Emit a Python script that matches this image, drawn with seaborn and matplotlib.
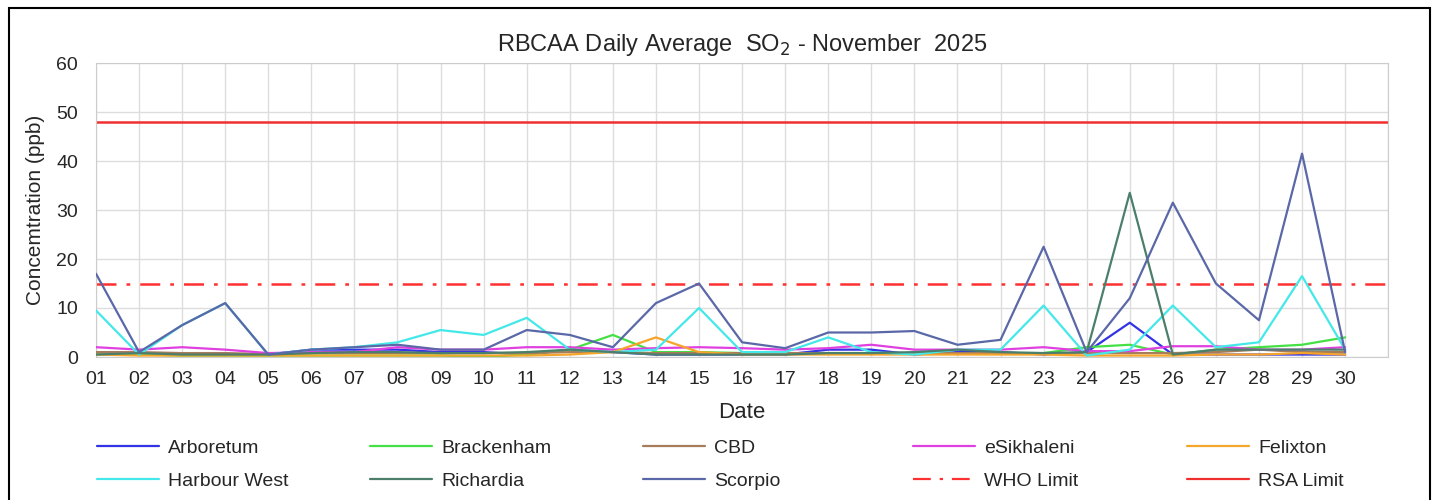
import seaborn as sns
import pandas as pd
from matplotlib import pyplot as plt
from matplotlib.lines import Line2D
from matplotlib.patches import Rectangle

dates = ['%02d' % d for d in range(1, 31)]

arboretum = [1, 0.5, 0.5, 0.5, 0.5, 1.5, 1.5, 1.5, 1, 1, 0.5, 1.5, 1, 0.5, 0.5,
             0.5, 0.5, 1.5, 1.5, 0.5, 1, 1, 0.5, 1, 7, 0.5, 0.5, 0.5, 0.5, 0.5]
brackenham = [0.5, 0.5, 0.3, 0.3, 0.3, 0.3, 0.3, 0.3, 0.3, 0, 0.5, 1.5, 4.5, 1, 1,
              0.8, 0.8, 0.8, 0.8, 0.8, 0.8, 0.8, 0.8, 2, 2.5, 0.5, 1.5, 2, 2.5, 4]
cbd = [1, 1, 0.8, 0.8, 0.6, 0.8, 0.8, 0.8, 0.8, 0.8, 0.8, 1, 1, 0.8, 0.8,
       0.8, 0.8, 0.8, 0.8, 0.8, 0.8, 0.8, 0.8, 0.8, 0.8, 0.8, 1, 1.5, 1, 1]
esikhaleni = [2, 1.5, 2, 1.5, 0.8, 1, 1, 2, 1.5, 1.5, 2, 2, 1.5, 1.8, 2,
              1.8, 1.5, 1.8, 2.5, 1.5, 1.5, 1.5, 2, 1.2, 1.2, 2.2, 2.2, 1.5, 1.5, 2]
felixton = [0.5, 0.3, 0.3, 0.3, 0.3, 0.3, 0.3, 0.3, 0.3, 0.3, 0.3, 0.5, 1, 4, 1,
            0.5, 0.5, 0.5, 0.5, 0.5, 0.5, 0.5, 0.5, 0.3, 0.3, 0.3, 0.5, 0.5, 0.8, 0.5]
harbour_west = [9.5, 0.5, 6.5, 11, 0.5, 1.5, 2, 3, 5.5, 4.5, 8, 1.5, 1, 1.5, 10,
                1, 1, 4, 1, 0.5, 1.5, 1.5, 10.5, 0.3, 1.5, 10.5, 2, 3, 16.5, 1.5]
richardia = [0.5, 0.8, 0.5, 0.5, 0.5, 0.8, 1, 1, 0.8, 0.8, 1, 1.5, 1, 0.5, 0.5,
             0.5, 0.5, 0.8, 0.8, 1, 1.5, 1, 0.8, 1, 33.5, 0.5, 1.5, 1.5, 1.5, 1.5]
scorpio = [17, 1, 6.5, 11, 0.5, 1.5, 2, 2.5, 1.5, 1.5, 5.5, 4.5, 2, 11, 15,
           3, 1.8, 5, 5, 5.3, 2.5, 3.5, 22.5, 1, 12, 31.5, 15, 7.5, 41.5, 1]

who_limit = 15
rsa_limit = 48

stations = {
    'Arboretum': arboretum, 'Brackenham': brackenham, 'CBD': cbd,
    'eSikhaleni': esikhaleni, 'Felixton': felixton, 'Harbour West': harbour_west,
    'Richardia': richardia, 'Scorpio': scorpio,
}
colors = {
    'Arboretum': '#3333e6', 'Brackenham': '#44e044', 'CBD': '#a67c5b',
    'eSikhaleni': '#e040e0', 'Felixton': '#f5a52a', 'Harbour West': '#44e8e8',
    'Richardia': '#4b7f6b', 'Scorpio': '#5a68a8',
}
who_style = (0, (8, 4, 1.5, 4))

rows = []
for name, vals in stations.items():
    for d, v in zip(dates, vals):
        rows.append({'Date': d, 'Station': name, 'SO2': v})
df = pd.DataFrame(rows)

sns.set_style('white')
plt.rcParams['font.family'] = ['Liberation Sans', 'DejaVu Sans']

fig = plt.figure(figsize=(14.39, 5), dpi=100)
ax = fig.add_axes([0.0667, 0.286, 0.898, 0.588])

sns.lineplot(data=df, x='Date', y='SO2', hue='Station', palette=colors,
             linewidth=1.6, ax=ax, legend=False, zorder=3)
ax.axhline(who_limit, color='#ff3030', linestyle=who_style, linewidth=1.8, zorder=2)
ax.axhline(rsa_limit, color='#f03030', linewidth=1.8, zorder=2)

ax.set_xlim(0, 30)
ax.set_ylim(0, 60)
ax.set_yticks(range(0, 61, 10))
ax.set_xticks(range(31), dates + [''])
ax.grid(True, color='#dddddd', linewidth=1)
for s in ax.spines.values():
    s.set_color('#cccccc')
ax.tick_params(axis='both', labelsize=14, length=0)
ax.tick_params(axis='y', pad=13)
ax.tick_params(axis='x', pad=10)

ax.set_title('RBCAA Daily Average  SO$_2$ - November  2025', fontsize=17, pad=9)
ax.set_xlabel('Date', fontsize=16, labelpad=10)
ax.set_ylabel('Concemtration (ppb)', fontsize=15, labelpad=8)

# legend: 5 columns x 2 rows, placed column by column
names = list(stations.keys())
handles = [Line2D([], [], color=colors[n], linewidth=1.6) for n in names]
handles.append(Line2D([], [], color='#ff3030', linestyle=who_style, linewidth=1.6))
handles.append(Line2D([], [], color='#f03030', linewidth=1.6))
labels = names + ['WHO Limit', 'RSA Limit']
col_x = [97, 370, 643, 913, 1187]
for c, x in enumerate(col_x):
    idx = [c, c + 5]
    fig.legend([handles[i] for i in idx], [labels[i] for i in idx],
               loc='upper left', bbox_to_anchor=(x / 1439, 1 - 439 / 500),
               frameon=False, fontsize=14, handlelength=3.2, handletextpad=0.45,
               labelspacing=0.82, borderpad=0, borderaxespad=0)

fig.add_artist(Rectangle((0.006, -0.01), 0.988, 0.994, transform=fig.transFigure,
                         fill=False, edgecolor='black', linewidth=1.5))

fig.savefig('out.png', dpi=100)
